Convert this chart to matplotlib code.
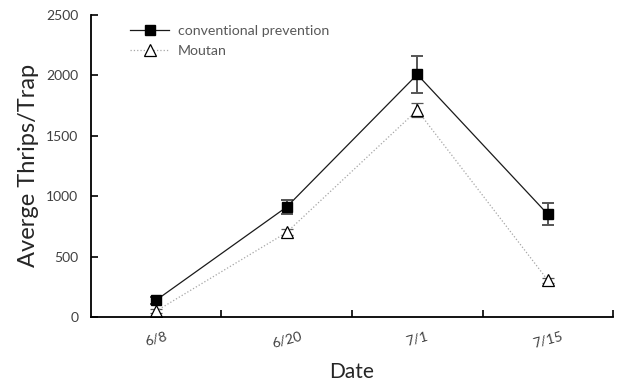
import matplotlib

matplotlib.use("Agg")
import matplotlib.pyplot as plt
from matplotlib.lines import Line2D

dates = ["6/8", "6/20", "7/1", "7/15"]
conventional = [140, 910, 2005, 850]
conventional_err = [30, 60, 155, 90]
moutan = [50, 700, 1710, 305]
moutan_err = [15, 25, 60, 20]

plt.rcParams["font.family"] = ["Lato", "DejaVu Sans"]

fig = plt.figure(figsize=(6.18, 3.83), dpi=100)
ax = fig.add_axes([0.147, 0.172, 0.845, 0.790])

xs = [i + 0.5 for i in range(len(dates))]

conv_style = dict(color="#1a1a1a", lw=0.9, marker="s", ms=7, mfc="black", mec="black")
mout_style = dict(color="#a6a6a6", lw=0.9, ls=":", marker="^", ms=9,
                  mfc="white", mec="black", mew=0.9)

ax.errorbar(xs, conventional, yerr=conventional_err, ecolor="#555555",
            elinewidth=1.4, capsize=4, capthick=1.4, zorder=3, **conv_style)
ax.errorbar(xs, moutan, yerr=moutan_err, ecolor="#555555",
            elinewidth=1.2, capsize=4, capthick=1.2, zorder=2, **mout_style)

ax.set_xlim(0, 4)
ax.set_ylim(0, 2500)
ax.set_yticks(range(0, 2501, 500))
ax.set_xticks([1, 2, 3, 4])
ax.set_xticklabels([])
ax.set_xticks(xs, minor=True)
ax.set_xticklabels(dates, minor=True, rotation=15, fontsize=10, color="#404040")
ax.tick_params(axis="x", which="major", direction="in", length=5, width=1.2)
ax.tick_params(axis="x", which="minor", length=0, pad=9)
ax.tick_params(axis="y", direction="in", length=5, width=1.2, labelsize=10,
               labelcolor="#404040", pad=9)

for side in ("top", "right"):
    ax.spines[side].set_visible(False)
for side in ("left", "bottom"):
    ax.spines[side].set_linewidth(1.3)

ax.set_xlabel("Date", fontsize=15, color="#262626", labelpad=9)
ax.set_ylabel("Averge Thrips/Trap", fontsize=17, color="#262626", labelpad=5)

handles = [Line2D([], [], **conv_style), Line2D([], [], **mout_style)]
ax.legend(handles, ["conventional prevention", "Moutan"], loc="upper left",
          bbox_to_anchor=(0.05, 1.008), frameon=False, fontsize=10.2,
          handlelength=2.8, handletextpad=0.6, labelcolor="#595959",
          labelspacing=0.55)

fig.savefig("out.png", dpi=100)
